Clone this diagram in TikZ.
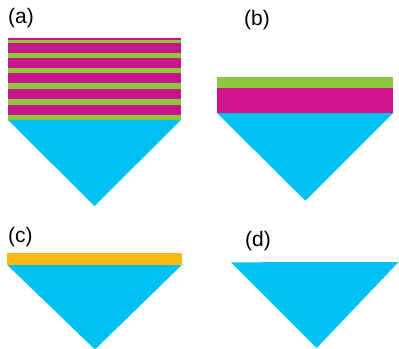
\documentclass[tikz,border=0pt]{standalone}
\usepackage{fontspec}
\setmainfont{Liberation Sans}
\definecolor{mag}{RGB}{200,22,138}
\definecolor{magb}{RGB}{210,20,140}
\definecolor{grn}{RGB}{141,198,63}
\definecolor{cyn}{RGB}{0,193,242}
\definecolor{org}{RGB}{253,185,19}
\begin{document}
\begin{tikzpicture}[x=1bp,y=-1bp,
  lbl/.style={anchor=north west,inner sep=0pt,font=\fontsize{21bp}{23bp}\selectfont}]
\useasboundingbox (0,0) rectangle (399,349);
% panel a
\fill[mag] (8,38) rectangle (181,120);
\foreach \a/\b in {40.3/43,53/58,68/73,83/88.7,99/104.7,114.7/120}
  \fill[grn] (8,\a) rectangle (181,\b);
\fill[cyn] (8,120) -- (181,120) -- (94.5,206) -- cycle;
% panel b
\fill[grn] (217,77) rectangle (393,88);
\fill[magb] (217,88) rectangle (393,113);
\fill[cyn] (217,113) -- (393,113) -- (305.3,200.7) -- cycle;
% panel c
\fill[org] (7.3,253) rectangle (181.7,265);
\fill[cyn] (7.3,265) -- (181.7,265) -- (95,349.5) -- cycle;
% panel d
\fill[cyn] (231,262.3) -- (398.5,262) -- (316.7,348) -- cycle;
% labels
\node[lbl] (la) at (8,8) {(a)};
\node[lbl] (lb) at (244,10) {(b)};
\node[lbl] (lc) at (8,227.5) {(c)};
\node[lbl] (ld) at (245,231) {(d)};
\end{tikzpicture}
\end{document}
